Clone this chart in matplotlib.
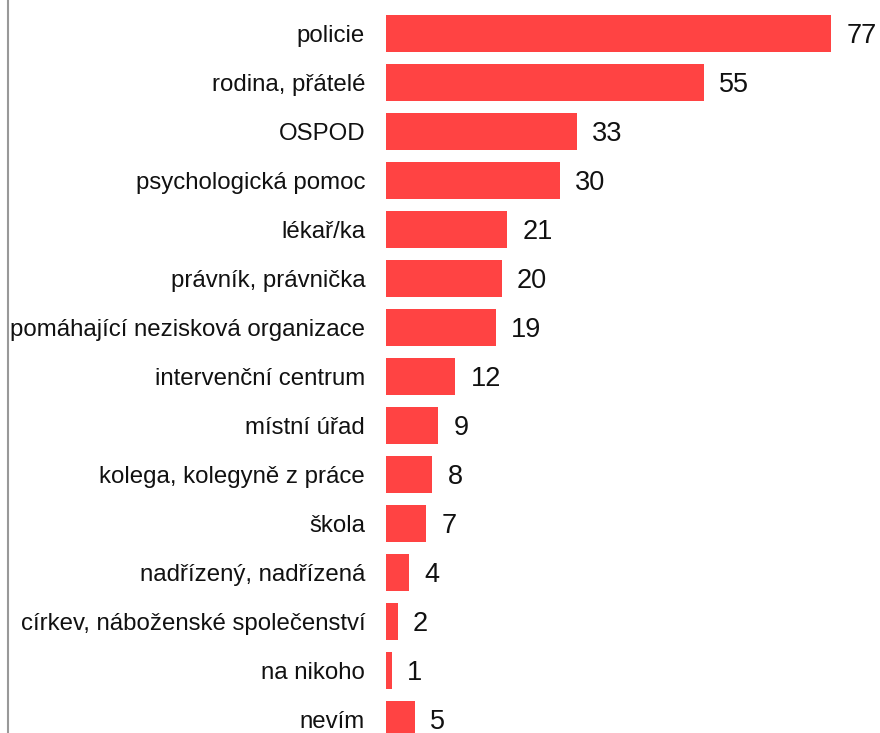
import matplotlib.pyplot as plt
from matplotlib.lines import Line2D

# Data
categories = ["policie", "rodina, přátelé", "OSPOD", "psychologická pomoc",
              "lékař/ka", "právník, právnička", "pomáhající nezisková organizace",
              "intervenční centrum", "místní úřad", "kolega, kolegyně z práce",
              "škola", "nadřízený, nadřízená", "církev, náboženské společenství",
              "na nikoho", "nevím"]
values = [77, 55, 33, 30, 21, 20, 19, 12, 9, 8, 7, 4, 2, 1, 5]

plt.rcParams['font.family'] = ['Liberation Sans', 'DejaVu Sans']

fig = plt.figure(figsize=(8.8, 7.33), dpi=100)
ax = fig.add_axes([386 / 880, 0, 494 / 880, 1])

pos = list(range(len(categories)))
ax.barh(pos, values, height=0.755, color="#FF4343")

ax.set_xlim(0, 85.4)
ax.set_ylim(14.276, -0.684)
ax.set_yticks(pos)
ax.set_yticklabels(categories, fontsize=17.3, color="#111111")
ax.tick_params(axis="y", length=0, pad=15)
ax.set_xticks([])
for s in ax.spines.values():
    s.set_visible(False)

for p, v in zip(pos, values):
    ax.annotate(str(v), (v, p), xytext=(11, -7), textcoords="offset points",
                va="baseline", ha="left", fontsize=19.5, color="#111111")

# thin gray frame line at the left edge
fig.add_artist(Line2D([7.5 / 880, 7.5 / 880], [0, 1], color="#999999", lw=1.5,
                      transform=fig.transFigure))

fig.savefig("out.png", dpi=100)
